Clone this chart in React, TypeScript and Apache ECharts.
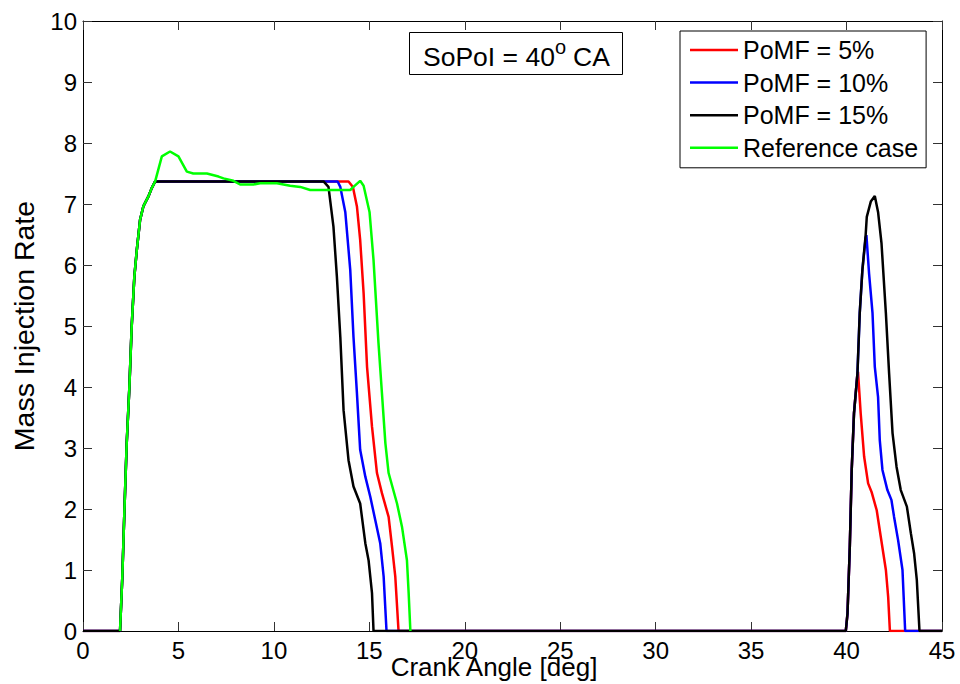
import React, { useEffect, useRef } from "react";
import * as echarts from "echarts";

// ---- Data ----
// shared injection rise, pulse 1 (all cases overlap here)
const rise1X = [1.94, 2.06, 2.17, 2.29, 2.43, 2.55, 2.69, 2.82, 2.99, 3.16, 3.42, 3.6, 3.78];
const rise1Y = [0, 0.89, 1.98, 3.08, 4.0, 4.99, 5.81, 6.25, 6.74, 6.96, 7.12, 7.26, 7.37];

// fall of pulse 1
const redFallX = [13.91, 14.14, 14.35, 14.52, 14.7, 14.88, 15.14, 15.4, 15.66, 16.01, 16.19, 16.36, 16.53];
const redFallY = [7.37, 7.28, 6.96, 6.41, 5.54, 4.33, 3.35, 2.59, 2.26, 1.87, 1.38, 0.89, 0];
const blueFallX = [13.34, 13.48, 13.74, 14.0, 14.17, 14.35, 14.52, 14.79, 15.05, 15.31, 15.57, 15.75, 15.9];
const blueFallY = [7.37, 7.28, 6.87, 5.92, 4.82, 3.9, 2.97, 2.53, 2.2, 1.82, 1.44, 0.89, 0];
const blackFallX = [12.6, 12.86, 13.12, 13.3, 13.48, 13.65, 13.91, 14.17, 14.52, 14.79, 14.96, 15.14, 15.22];
const blackFallY = [7.37, 7.28, 6.63, 5.81, 4.82, 3.62, 2.8, 2.37, 2.09, 1.44, 1.16, 0.62, 0];

// reference case after the shared rise
const greenX = [4.13, 4.56, 5.0, 5.44, 5.78, 6.49, 7.1, 7.36, 7.88, 8.23, 8.93, 9.28, 10.16, 10.85, 11.38, 11.9, 14.0, 14.17, 14.52, 14.7, 15.01, 15.22, 15.48, 15.66, 15.84, 16.01, 16.45, 16.71, 16.97, 17.06, 17.15];
const greenY = [7.78, 7.86, 7.78, 7.53, 7.5, 7.5, 7.45, 7.42, 7.38, 7.32, 7.32, 7.34, 7.34, 7.3, 7.28, 7.23, 7.23, 7.28, 7.38, 7.3, 6.87, 6.08, 4.72, 3.9, 3.08, 2.59, 2.09, 1.71, 1.16, 0.62, 0];

// pulse 2 (post injection) shared rise
const rise2X = [39.96, 40.05, 40.17, 40.27, 40.39, 40.57];
const rise2Y = [0, 0.29, 1.38, 2.64, 3.57, 4.22];
const red2X = [40.6, 40.74, 40.92, 41.13, 41.31, 41.58, 41.79, 42.06, 42.18, 42.27];
const red2Y = [4.25, 3.57, 2.86, 2.42, 2.28, 1.98, 1.55, 1.0, 0.56, 0];
const blue2X = [40.69, 40.83, 41.0, 41.04, 41.18, 41.36, 41.48, 41.65, 41.74, 41.88, 42.14, 42.35, 42.49, 42.7, 42.93, 43.07];
const blue2Y = [5.21, 5.92, 6.45, 6.49, 5.86, 5.21, 4.33, 3.84, 3.13, 2.64, 2.31, 2.15, 1.87, 1.49, 1.0, 0];
const black2X = [40.69, 40.83, 41.0, 41.06, 41.27, 41.48, 41.65, 41.83, 42.06, 42.23, 42.41, 42.62, 42.84, 43.16, 43.37, 43.54, 43.68, 43.82];
const black2Y = [5.21, 5.92, 6.49, 6.79, 7.04, 7.13, 6.87, 6.36, 5.21, 4.22, 3.24, 2.69, 2.31, 2.04, 1.6, 1.27, 0.84, 0];

const seriesNames = ["PoMF = 5%", "PoMF = 10%", "PoMF = 15%", "Reference case"];
const seriesColors = ["#ff0000", "#0000ff", "#000000", "#00ff00"];
const xTicks = { min: 0, max: 45, interval: 5 };
const yTicks = { min: 0, max: 10, interval: 1 };

const FONT = "'Liberation Sans', Arial, Helvetica, sans-serif";

const zip = (xs: number[], ys: number[]) => xs.map((x, i) => [x, ys[i]]);

const pulseSeries = (fx: number[], fy: number[], p2x: number[], p2y: number[]) => [
  [0, 0],
  ...zip(rise1X, rise1Y),
  ...zip(fx, fy),
  ...zip(rise2X, rise2Y),
  ...zip(p2x, p2y),
  [45, 0],
];

const txt = (text: string, x: number, y: number, size: number, align = "left", extra: any = {}) => ({
  type: "text",
  x,
  y,
  z: 11,
  ...extra,
  style: {
    text,
    font: `${size}px ${FONT}`,
    fill: "#000",
    textAlign: align,
    textVerticalAlign: "middle",
    align,
    verticalAlign: "middle",
  },
});

export default function App() {
  const ref = useRef<HTMLDivElement>(null);
  useEffect(() => {
    if (!ref.current) return;
    const chart = echarts.init(ref.current, undefined, { renderer: "svg" });
    const data = [
      pulseSeries(redFallX, redFallY, red2X, red2Y),
      pulseSeries(blueFallX, blueFallY, blue2X, blue2Y),
      pulseSeries(blackFallX, blackFallY, black2X, black2Y),
      [...zip(rise1X, rise1Y), ...zip(greenX, greenY)],
    ];
    const axisCommon = {
      type: "value" as const,
      axisLine: { show: true, onZero: false, lineStyle: { color: "#000", width: 1 } },
      axisTick: { show: true, inside: true, length: 9, lineStyle: { color: "#333", width: 1 } },
      splitLine: { show: false },
    };
    chart.setOption({
      animation: false,
      backgroundColor: "#fff",
      grid: { left: 83, right: 18, top: 21, bottom: 53 },
      xAxis: [
        {
          ...axisCommon,
          ...xTicks,
          position: "bottom",
          axisLabel: { color: "#000", fontSize: 24, fontFamily: FONT, margin: 7 },
        },
        { ...axisCommon, ...xTicks, position: "top", axisLabel: { show: false } },
      ],
      yAxis: [
        {
          ...axisCommon,
          ...yTicks,
          position: "left",
          axisLabel: { color: "#000", fontSize: 24, fontFamily: FONT, margin: 6 },
        },
        { ...axisCommon, ...yTicks, position: "right", axisLabel: { show: false } },
      ],
      legend: {
        orient: "vertical",
        left: 680,
        top: 31,
        data: seriesNames,
        icon: "rect",
        backgroundColor: "#fff",
        borderColor: "#000",
        borderWidth: 1,
        borderRadius: 0,
        padding: [6, 8, 7, 10],
        itemWidth: 48,
        itemHeight: 2.5,
        itemGap: 6.6,
        textStyle: { color: "#000", fontSize: 25, fontFamily: FONT, lineHeight: 26 },
      },
      series: data.map((d, i) => ({
        name: seriesNames[i],
        type: "line",
        data: d,
        symbol: "none",
        color: seriesColors[i],
        lineStyle: { color: seriesColors[i], width: 2.5 },
        z: 3 + i,
      })),
      graphic: [
        {
          type: "rect",
          shape: { x: 409.5, y: 32.5, width: 213, height: 42 },
          style: { fill: "#fff", stroke: "#000", lineWidth: 1 },
          z: 10,
        },
        txt("SoPoI = 40", 423, 57, 26.5),
        txt("o", 555, 47, 20),
        txt("CA", 573, 57, 26.5),
        txt("Crank Angle [deg]", 494, 667, 26, "center"),
        txt("Mass Injection Rate", 24, 326, 28.5, "center", { rotation: Math.PI / 2 }),
      ],
    });
    return () => chart.dispose();
  }, []);
  return (
    <div style={{ position: "fixed", left: 0, top: 0, width: 960, height: 684, background: "#fff" }}>
      <div ref={ref} style={{ width: 960, height: 684 }} />
    </div>
  );
}
